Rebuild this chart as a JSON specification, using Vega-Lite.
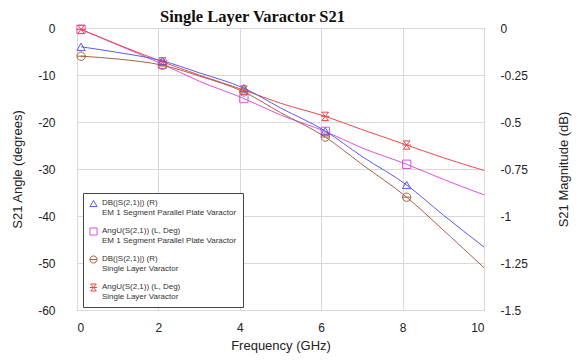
{
  "$schema": "https://vega.github.io/schema/vega-lite/v6.json",
  "width": 407,
  "height": 282,
  "autosize": {"type": "none"},
  "padding": {"left": 77, "top": 28, "right": 98, "bottom": 54},
  "background": "white",
  "title": {
    "text": "Single Layer Varactor S21",
    "font": "Liberation Serif",
    "fontSize": 16.5,
    "fontWeight": "bold",
    "color": "#111",
    "anchor": "middle",
    "dx": -28,
    "dy": 9,
    "offset": 6
  },
  "config": {
    "font": "Liberation Sans",
    "view": {"stroke": "#555", "strokeWidth": 1},
    "axis": {
      "grid": true,
      "gridColor": "#d9d9d9",
      "ticks": false,
      "domain": false,
      "labelFontSize": 12,
      "labelColor": "#222",
      "titleFontSize": 13,
      "titleFontWeight": "normal",
      "titleColor": "#222",
      "labelExpr": "toString(datum.value)"
    }
  },
  "datasets": {
    "curves": [
      {"s": "A", "f": 0.1, "v": -0.1}, {"s": "A", "f": 1, "v": -0.13}, {"s": "A", "f": 2.1, "v": -0.175},
      {"s": "A", "f": 3, "v": -0.238}, {"s": "A", "f": 4.1, "v": -0.32}, {"s": "A", "f": 5, "v": -0.425},
      {"s": "A", "f": 6.1, "v": -0.548}, {"s": "A", "f": 7, "v": -0.683}, {"s": "A", "f": 8.1, "v": -0.835},
      {"s": "A", "f": 9, "v": -0.995}, {"s": "A", "f": 10, "v": -1.165},
      {"s": "C", "f": 0.1, "v": -0.15}, {"s": "C", "f": 1, "v": -0.165}, {"s": "C", "f": 2.1, "v": -0.198},
      {"s": "C", "f": 3, "v": -0.255}, {"s": "C", "f": 4.1, "v": -0.34}, {"s": "C", "f": 5, "v": -0.45},
      {"s": "C", "f": 6.1, "v": -0.58}, {"s": "C", "f": 7, "v": -0.725}, {"s": "C", "f": 8.1, "v": -0.9},
      {"s": "C", "f": 9, "v": -1.075}, {"s": "C", "f": 10, "v": -1.275},
      {"s": "B", "f": 0.1, "v": -0.3}, {"s": "B", "f": 1, "v": -3.6}, {"s": "B", "f": 2.1, "v": -7.7},
      {"s": "B", "f": 3, "v": -11.3}, {"s": "B", "f": 4.1, "v": -15}, {"s": "B", "f": 5, "v": -18.5},
      {"s": "B", "f": 6.1, "v": -22}, {"s": "B", "f": 7, "v": -25.5}, {"s": "B", "f": 8.1, "v": -29},
      {"s": "B", "f": 9, "v": -32.2}, {"s": "B", "f": 10, "v": -35.5},
      {"s": "D", "f": 0.1, "v": -0.3}, {"s": "D", "f": 1, "v": -3.5}, {"s": "D", "f": 2.1, "v": -7.2},
      {"s": "D", "f": 3, "v": -10}, {"s": "D", "f": 4.1, "v": -13.2}, {"s": "D", "f": 5, "v": -16},
      {"s": "D", "f": 6.1, "v": -18.8}, {"s": "D", "f": 7, "v": -21.6}, {"s": "D", "f": 8.1, "v": -24.9},
      {"s": "D", "f": 9, "v": -27.6}, {"s": "D", "f": 10, "v": -30.3}
    ]
  },
  "data": {"name": "curves"},
  "encoding": {
    "x": {
      "field": "f", "type": "quantitative",
      "scale": {"domain": [0, 10], "nice": false, "zero": false},
      "axis": {"values": [0, 2, 4, 6, 8, 10], "title": "Frequency (GHz)", "labelPadding": 12, "titlePadding": 6}
    },
    "color": {
      "field": "s", "type": "nominal",
      "scale": {"domain": ["A", "B", "C", "D"], "range": ["#5a5af0", "#e050e0", "#a8604a", "#f04848"]},
      "legend": {
        "title": null,
        "orient": "none",
        "legendX": 6,
        "legendY": 165,
        "fillColor": "white",
        "strokeColor": "#444",
        "padding": 6,
        "labelFontSize": 8,
        "labelColor": "#333",
        "labelLimit": 260,
        "symbolSize": 50,
        "symbolStrokeWidth": 1,
        "symbolFillColor": "white",
        "rowPadding": 8,
        "labelExpr": "datum.label == 'A' ? ['DB(|S(2,1)|) (R)', 'EM 1 Segment Parallel Plate Varactor\u00a0\u00a0\u00a0\u00a0\u00a0\u00a0\u00a0\u00a0\u00a0\u00a0'] : datum.label == 'B' ? ['AngU(S(2,1)) (L, Deg)', 'EM 1 Segment Parallel Plate Varactor'] : datum.label == 'C' ? ['DB(|S(2,1)|) (R)', 'Single Layer Varactor'] : ['AngU(S(2,1)) (L, Deg)', 'Single Layer Varactor']",
        "encode": {"labels": {"update": {"baseline": {"value": "top"}, "dy": {"value": -5}}}}
      }
    }
  },
  "layer": [
    {
      "transform": [{"filter": "datum.s == 'B' || datum.s == 'D'"}],
      "encoding": {
        "y": {
          "field": "v", "type": "quantitative",
          "scale": {"domain": [-60, 0], "nice": false},
          "axis": {"orient": "left", "values": [0, -10, -20, -30, -40, -50, -60], "title": "S21 Angle (degrees)", "labelPadding": 22, "titlePadding": 13}
        }
      },
      "layer": [
        {"mark": {"type": "line", "interpolate": "monotone", "strokeWidth": 1}},
        {
          "transform": [{"filter": "round(datum.f*10) % 20 == 1"}],
          "mark": {"type": "point", "filled": false, "fill": "white", "fillOpacity": 0, "size": 70, "strokeWidth": 1, "opacity": 1},
          "encoding": {
            "shape": {
              "field": "s", "type": "nominal",
              "scale": {"domain": ["A", "B", "C", "D"], "range": ["triangle-up", "square", "M-1,0A1,1 0 1,1 1,0A1,1 0 1,1 -1,0ZM-1,0L1,0", "M-0.8,-1L0.8,-1L-0.8,1L0.8,1ZM-1,0L1,0"]}
            }
          }
        }
      ]
    },
    {
      "transform": [{"filter": "datum.s == 'A' || datum.s == 'C'"}],
      "encoding": {
        "y": {
          "field": "v", "type": "quantitative",
          "scale": {"domain": [-1.5, 0], "nice": false},
          "axis": {"orient": "right", "values": [0, -0.25, -0.5, -0.75, -1, -1.25, -1.5], "grid": false, "title": "S21 Magnitude (dB)", "titleAngle": 270, "labelPadding": 16, "titlePadding": 43}
        }
      },
      "layer": [
        {"mark": {"type": "line", "interpolate": "monotone", "strokeWidth": 1}},
        {
          "transform": [{"filter": "round(datum.f*10) % 20 == 1"}],
          "mark": {"type": "point", "filled": false, "fill": "white", "fillOpacity": 0, "size": 70, "strokeWidth": 1, "opacity": 1},
          "encoding": {
            "shape": {
              "field": "s", "type": "nominal",
              "scale": {"domain": ["A", "B", "C", "D"], "range": ["triangle-up", "square", "M-1,0A1,1 0 1,1 1,0A1,1 0 1,1 -1,0ZM-1,0L1,0", "M-0.8,-1L0.8,-1L-0.8,1L0.8,1ZM-1,0L1,0"]}
            }
          }
        }
      ]
    }
  ],
  "resolve": {"scale": {"y": "independent"}}
}
